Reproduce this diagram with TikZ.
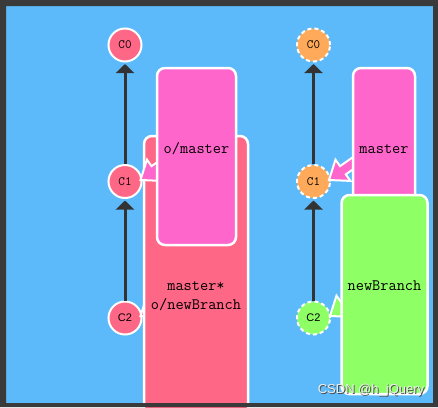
\documentclass[tikz,border=0pt]{standalone}
\usepackage{fontspec}
\setmainfont{Liberation Sans}
\usetikzlibrary{calc,arrows.meta}
\definecolor{bgblue}{HTML}{5CBAFA}
\definecolor{framec}{HTML}{3A3A3A}
\definecolor{redc}{HTML}{FF6787}
\definecolor{magc}{HTML}{FF66CC}
\definecolor{orac}{HTML}{FFAA5A}
\definecolor{grnc}{HTML}{8FFF66}
\definecolor{edgec}{HTML}{333333}
\tikzset{
  commit/.style={circle, minimum size=33pt, inner sep=0pt, draw=white, line width=2pt,
    font=\ttfamily\fontsize{12.7}{14}\selectfont},
  commitsans/.style={commit, font=\fontsize{11}{13}\selectfont},
  remote/.style={dashed, dash pattern=on 4pt off 3pt},
  branchbox/.style={rectangle, rounded corners=8pt, draw=white, line width=2.5pt, inner sep=0pt},
  lbl/.style={font=\ttfamily\fontsize{15.9}{19.5}\selectfont, align=center, inner sep=0pt},
  edge/.style={draw=edgec, line width=3pt, -{Triangle[width=18pt,length=9pt]}, shorten >=1.5pt},
  ptr/.style={draw=white, line width=2pt, line join=miter}
}
\newcommand\refptr[3]{%
  \begin{scope}[shift={#1},rotate=#3]
    \filldraw[ptr, fill=#2] (0,0) -- (17,13) -- (17,5) -- (60,5) -- (60,-5) -- (17,-5) -- (17,-13) -- cycle;
  \end{scope}}
\begin{document}
\begin{tikzpicture}[x=1pt,y=-1pt]
\useasboundingbox (0,0) rectangle (438,407);
\fill[bgblue] (0,0) rectangle (438,407);

% left tree
\node[commit, fill=redc] (lc0) at (125,45) {C0};
\node[commit, fill=redc] (lc1) at (125,181.5) {C1};
\node[commitsans, fill=redc] (lc2) at (125,318) {C2};
\draw[edge] (lc1) -- (lc0);
\draw[edge] (lc2) -- (lc1);

% right tree
\node[commit, remote, fill=orac] (rc0) at (313.5,45) {C0};
\node[commit, remote, fill=orac] (rc1) at (313.5,181.5) {C1};
\node[commitsans, remote, fill=grnc] (rc2) at (313.5,318) {C2};
\draw[edge] (rc1) -- (rc0);
\draw[edge] (rc2) -- (rc1);

% left branches
\refptr{($(lc2.east)+(-2,-2)$)}{redc}{35}
\node[branchbox, fill=redc, minimum width=104pt, minimum height=290pt] (lmain) at (196,281) {};
\node[lbl] (lmaint) at (196,296) {master*\\o/newBranch};
\refptr{($(lc1.east)+(-2,-1.5)$)}{magc}{35}
\node[branchbox, fill=magc, minimum width=79pt, minimum height=177pt] (lom) at (196.5,156.5) {};
\node[lbl] (lomt) at (196.5,149) {o/master};

% right branches
\refptr{($(rc1.east)+(-2,-1.5)$)}{magc}{35}
\node[branchbox, fill=magc, minimum width=62pt, minimum height=150pt] (rm) at (384,143) {};
\node[lbl] (rmt) at (384,149) {master};
\refptr{($(rc2.east)+(-1,-2)$)}{grnc}{35}
\node[branchbox, fill=grnc, minimum width=86pt, minimum height=199pt] (rnb) at (384.5,294.5) {};
\node[lbl] (rnbt) at (384.5,286) {newBranch};

% frame
\fill[framec, even odd rule] (0,0) rectangle (438,407) (6,6) rectangle (433,403);

% watermark
\node[font=\fontsize{13}{15}\selectfont, text=black!70, inner sep=0pt] (wms) at (372,390.8) {CSDN @h\_jQuery};
\node[font=\fontsize{13}{15}\selectfont, text=white!85!gray, inner sep=0pt] (wm) at (371,390) {CSDN @h\_jQuery};
\end{tikzpicture}
\end{document}
